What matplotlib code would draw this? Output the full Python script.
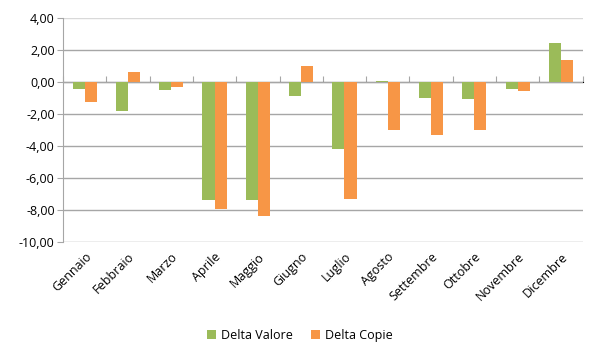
import numpy as np
import matplotlib.pyplot as plt
from matplotlib.ticker import FuncFormatter

months = ["Gennaio", "Febbraio", "Marzo", "Aprile", "Maggio", "Giugno",
          "Luglio", "Agosto", "Settembre", "Ottobre", "Novembre", "Dicembre"]
delta_valore = [-0.44, -1.83, -0.52, -7.40, -7.35, -0.90,
                -4.20, 0.05, -0.98, -1.04, -0.42, 2.46]
delta_copie = [-1.23, 0.60, -0.33, -7.95, -8.40, 1.00,
               -7.30, -3.00, -3.30, -3.00, -0.54, 1.40]

plt.rcParams["font.family"] = ["Open Sans", "DejaVu Sans"]

fig = plt.figure(figsize=(6, 3.6), dpi=100)
ax = fig.add_axes([0.105, 0.328, 0.866, 0.622])

x = np.arange(len(months))
w = 0.28
ax.bar(x - w / 2, delta_valore, w, color="#9BBB59", label="Delta Valore", zorder=3)
ax.bar(x + w / 2, delta_copie, w, color="#F79646", label="Delta Copie", zorder=3)

ax.set_xlim(-0.5, len(months) - 0.5)
ax.set_ylim(-10, 4)
ax.set_yticks(np.arange(-10, 4.1, 2))
ax.yaxis.set_major_formatter(FuncFormatter(lambda v, p: f"{v:.2f}".replace(".", ",")))
ax.grid(axis="y", color="#a6a6a6", linewidth=1, zorder=0)
ax.get_ygridlines()[-1].set_color("#d9d9d9")

for s in ["top", "right", "bottom"]:
    ax.spines[s].set_visible(False)
ax.spines["left"].set_color("#a6a6a6")
ax.tick_params(axis="y", length=4, color="#a6a6a6", labelsize=9, pad=2)

ax.set_xticks(x)
ax.set_xticklabels(months, rotation=45, ha="right", rotation_mode="anchor", fontsize=9)
ax.tick_params(axis="x", length=0, pad=6)

# zero line with tick marks between categories
zero_pos = (0 - (-10)) / 14
sec = ax.secondary_xaxis(zero_pos)
sec.set_xticks(np.arange(len(months) + 1) - 0.5)
sec.set_xticklabels([])
sec.tick_params(axis="x", length=4, color="#a6a6a6", direction="out")
sec.spines["bottom"].set_color("#a6a6a6")

fig.legend(loc="lower center", ncol=2, frameon=False, fontsize=9,
           bbox_to_anchor=(0.5, 0.02), handlelength=0.7, handleheight=0.7,
           columnspacing=1.5, handletextpad=0.4)

fig.savefig("out.png", dpi=100, facecolor="white")
